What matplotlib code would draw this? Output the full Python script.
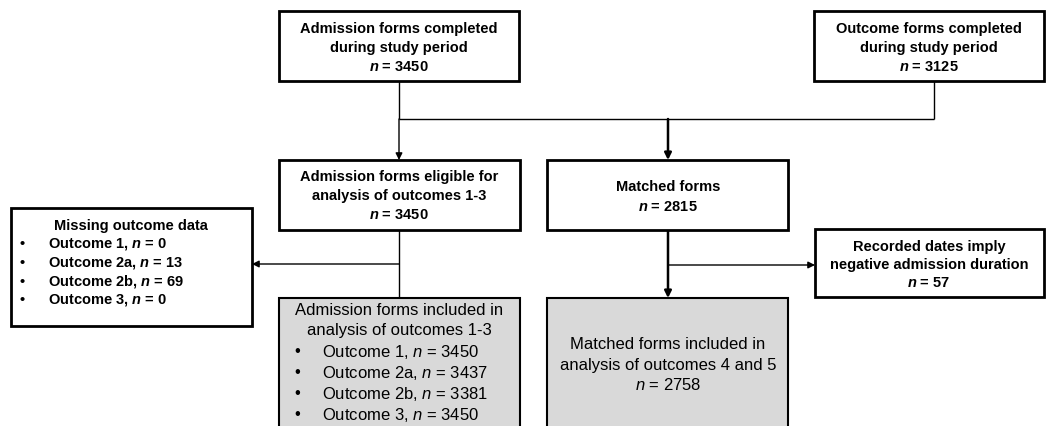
import matplotlib.pyplot as plt
from matplotlib.patches import Rectangle

plt.rcParams['font.family'] = ['Liberation Sans', 'DejaVu Sans']
plt.rcParams['mathtext.fontset'] = 'custom'
plt.rcParams['mathtext.it'] = 'Liberation Sans:italic'
plt.rcParams['mathtext.bf'] = 'Liberation Sans:bold'
plt.rcParams['mathtext.bfit'] = 'Liberation Sans:italic:bold'
plt.rcParams['mathtext.rm'] = 'Liberation Sans'

# counts shown in the flow diagram
n_admission = 3450
n_outcome = 3125
n_eligible = 3450
n_matched = 2815
n_negative = 57
n_matched_incl = 2758
missing_labels = ['Outcome 1', 'Outcome 2a', 'Outcome 2b', 'Outcome 3']
missing_n = [0, 13, 69, 0]
included_labels = ['Outcome 1', 'Outcome 2a', 'Outcome 2b', 'Outcome 3']
included_n = [3450, 3437, 3381, 3450]

BOLD_N = r'$\mathbfit{n}$'
REG_N = r'$\mathit{n}$'

fig = plt.figure(figsize=(10.47, 4.27), dpi=100)
ax = fig.add_axes([0, 0, 1, 1])
ax.set_xlim(0, 1047)
ax.set_ylim(427, 0)
ax.axis('off')


def box(x0, y0, x1, y1, fc='white', lw=2.0):
    ax.add_patch(Rectangle((x0, y0), x1 - x0, y1 - y0, fc=fc, ec='black', lw=lw, zorder=2))


def lines(xc, ys, texts, bold=True, size=10.5, ha='center'):
    for y, t in zip(ys, texts):
        ax.text(xc, y, t, ha=ha, va='center', fontsize=size,
                fontweight='bold' if bold else 'normal', zorder=3)


def seg(x0, y0, x1, y1, lw=1.0):
    ax.plot([x0, x1], [y0, y1], color='black', lw=lw, solid_capstyle='butt', zorder=1)


def arrow(x0, y0, x1, y1, lw=1.0):
    ax.annotate('', xy=(x1, y1), xytext=(x0, y0),
                arrowprops=dict(arrowstyle='-|>', color='black', lw=lw,
                                mutation_scale=10, shrinkA=0, shrinkB=0), zorder=1)


# top boxes
box(279, 12, 519, 82)
lines(399, [29, 48, 67], ['Admission forms completed', 'during study period',
                          f'{BOLD_N} = {n_admission}'])
box(814, 12, 1044, 82)
lines(929, [29, 48, 67], ['Outcome forms completed', 'during study period',
                          f'{BOLD_N} = {n_outcome}'])

# merging connectors
seg(399, 82, 399, 120)
seg(934, 82, 934, 120)
seg(399, 120, 934, 120)
arrow(399, 120, 399, 161)
arrow(668, 120, 668, 161, lw=1.8)

# second row
box(279, 161, 520, 231)
lines(399, [177, 196, 215], ['Admission forms eligible for', 'analysis of outcomes 1-3',
                             f'{BOLD_N} = {n_eligible}'])
box(547, 161, 788, 231)
lines(668, [187, 207], ['Matched forms', f'{BOLD_N} = {n_matched}'])

# exclusions
seg(399, 231, 399, 299)
arrow(399, 265, 252, 265)
box(11, 209, 252, 327)
lines(131, [226], ['Missing outcome data'])
ys = [244, 263, 282, 300]
lines(22, ys, ['•'] * 4, ha='center')
lines(48, ys, [f'{lab}, {BOLD_N} = {v}' for lab, v in zip(missing_labels, missing_n)], ha='left')

arrow(668, 231, 668, 299, lw=1.8)
arrow(668, 266, 815, 266)
box(815, 230, 1044, 298)
lines(929, [247, 265, 283], ['Recorded dates imply', 'negative admission duration',
                             f'{BOLD_N} = {n_negative}'])

# final boxes
box(279, 299, 520, 440, fc='#d9d9d9', lw=1.5)
lines(399, [311, 331], ['Admission forms included in', 'analysis of outcomes 1-3'],
      bold=False, size=12)
ys = [352, 373, 394, 415]
lines(297, ys, ['•'] * 4, bold=False, size=12)
lines(322, ys, [f'{lab}, {REG_N} = {v}' for lab, v in zip(included_labels, included_n)],
      bold=False, size=12, ha='left')

box(547, 299, 788, 440, fc='#d9d9d9', lw=1.5)
lines(668, [345, 366, 385], ['Matched forms included in', 'analysis of outcomes 4 and 5',
                             f'{REG_N} = {n_matched_incl}'], bold=False, size=12)

fig.savefig('out.png', dpi=100)
